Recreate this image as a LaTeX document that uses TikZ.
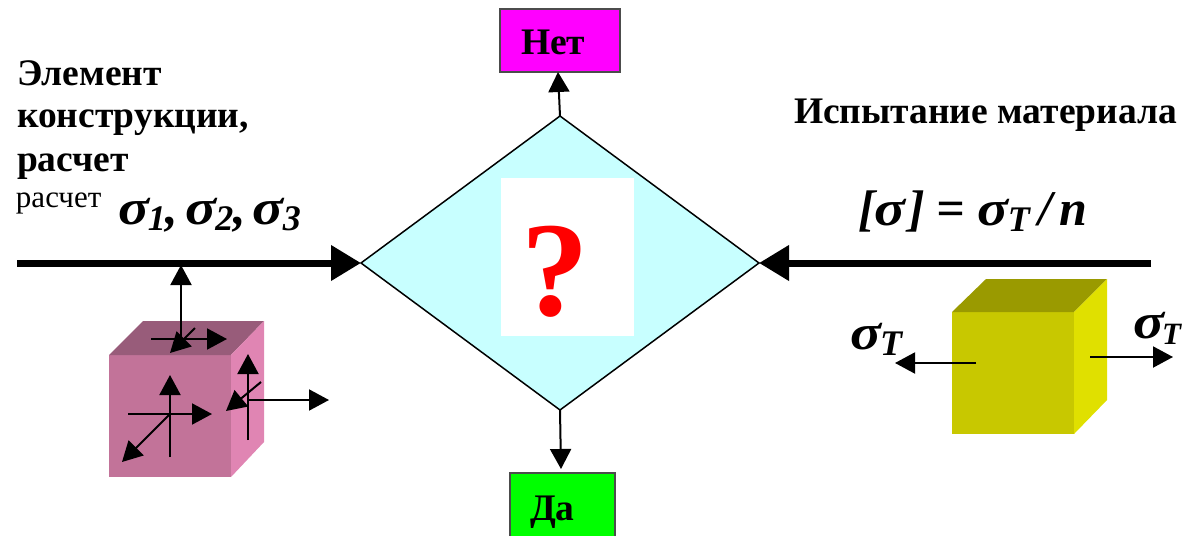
\documentclass[tikz,border=0pt]{standalone}
\usepackage{fontspec}
\setmainfont{Liberation Serif}
\usetikzlibrary{arrows.meta,shapes.geometric}
\newcommand{\fsz}[1]{\fontsize{#1}{#1}\selectfont}
\newcommand{\wsg}{\scalebox{1.15}[1]{σ}}
\newcommand{\sg}[1]{\wsg\kern-1pt\raisebox{-6pt}{\fsz{36}#1}}
\tikzset{
  x=1pt,y=-1pt,
  lbl/.style={inner sep=0pt,outer sep=0pt,anchor=base west,font=\fsz{37.5}\bfseries},
  symb/.style={inner sep=0pt,outer sep=0pt,anchor=base west,font=\fsz{50}\bfseries\itshape},
  heavy/.style={line width=7pt,-{Triangle[length=30pt,width=34pt]}},
  thin arrow/.style={line width=2pt,-{Triangle[length=20pt,width=21pt]}},
  answer/.style={draw=black!70,line width=2pt,inner sep=0pt,outer sep=0pt},
}
\begin{document}
\begin{tikzpicture}
\clip (0,0) rectangle (1182,535);
% decision
\node[diamond,draw=black,line width=1.5pt,fill={rgb,255:red,200;green,255;blue,255},inner sep=0pt,outer sep=0pt,minimum width=398pt,minimum height=294pt,aspect=1.354] (dec) at (560,263) {};
\node[fill=white,inner sep=0pt,minimum width=133pt,minimum height=158pt] (qbox) at (567.5,257) {};
\node[inner sep=0pt,anchor=base,text=red,font=\fsz{135}\bfseries] (q) at (555,315) {?};
% answers
\node[answer,fill={rgb,255:red,255;green,0;blue,255},minimum width=120pt,minimum height=63pt] (no) at (560,40.5) {};
\node[answer,fill={rgb,255:red,0;green,255;blue,0},minimum width=105pt,minimum height=80pt] (yes) at (562.5,513) {};
\node[lbl] (notext) at (521,55) {Нет};
\node[lbl] (yestext) at (530,520) {Да};
\coordinate (noin) at (558,72);
\coordinate (yesin) at (561,469);
\draw[thin arrow] (dec.north) -- (noin);
\draw[thin arrow] (dec.south) -- (yesin);
% heavy lines
\coordinate (lstart) at (17,263);
\coordinate (rstart) at (1151,263);
\draw[heavy] (lstart) -- (dec.west);
\draw[heavy] (rstart) -- (dec.east);
% texts
\node[lbl] (t1) at (17,85) {Элемент};
\node[lbl] (t2) at (17,127) {конструкции,};
\node[lbl] (t3) at (17,171) {расчет};
\node[lbl,font=\fsz{31}] (t4) at (16,207) {расчет};
\node[symb] (s123) at (118,224) {\sg{1},\kern7pt\sg{2},\kern7pt\sg{3}};
\node[lbl] (t5) at (794,123) {Испытание материала};
\node[symb] (eq) at (858,225) {[\wsg\kern3pt]\kern11pt=\kern13pt\sg{T}\kern9pt/\kern7pt n};
\node[symb] (sl) at (850,349) {\sg{T}};
\node[symb] (sr) at (1133,338) {\wsg\kern-2pt\raisebox{-6pt}{\fsz{31}T}};
% left cube
\fill[fill={rgb,255:red,194;green,115;blue,153}] (109,355) rectangle (231,477);
\fill[fill={rgb,255:red,152;green,92;blue,122}] (109,355) -- (143,321) -- (264,321) -- (231,355) -- cycle;
\fill[fill={rgb,255:red,224;green,133;blue,179}] (231,355) -- (264,321) -- (264,442) -- (231,477) -- cycle;
% right cube
\fill[fill={rgb,255:red,200;green,200;blue,0}] (952,312) rectangle (1074,434);
\fill[fill={rgb,255:red,154;green,154;blue,0}] (952,312) -- (986,279) -- (1107,279) -- (1074,312) -- cycle;
\fill[fill={rgb,255:red,224;green,224;blue,0}] (1074,312) -- (1107,279) -- (1107,400) -- (1074,434) -- cycle;
% stress arrows: left cube
\coordinate (a1) at (181,340); \coordinate (b1) at (181,265);
\coordinate (a2) at (151,339); \coordinate (b2) at (227,339);
\coordinate (a3) at (195,328); \coordinate (b3) at (170,353);
\coordinate (a4) at (170,457); \coordinate (b4) at (170,375);
\coordinate (a5) at (128,414); \coordinate (b5) at (212,414);
\coordinate (a6) at (170,414); \coordinate (b6) at (122,462);
\coordinate (a7) at (248,440); \coordinate (b7) at (248,354);
\coordinate (a8) at (261,382); \coordinate (b8) at (226,411);
\coordinate (a9) at (248,400); \coordinate (b9) at (329,400);
\foreach \i in {1,...,9} \draw[thin arrow] (a\i) -- (b\i);
% stress arrows: right cube
\coordinate (c1) at (976,363); \coordinate (d1) at (895,363);
\coordinate (c2) at (1090,357); \coordinate (d2) at (1173,357);
\draw[thin arrow] (c1) -- (d1);
\draw[thin arrow] (c2) -- (d2);
\end{tikzpicture}
\end{document}
